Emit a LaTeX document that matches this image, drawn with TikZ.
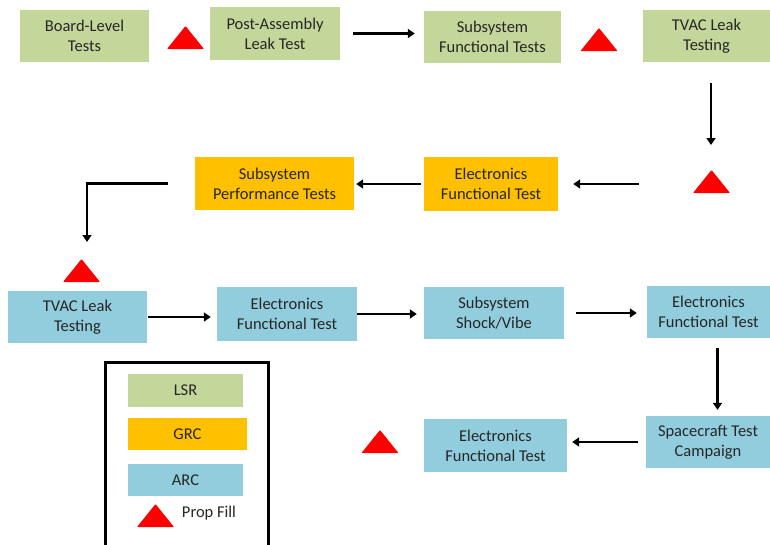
\documentclass[tikz,border=0pt]{standalone}
\usepackage{fontspec}
\setmainfont{Carlito}
\usetikzlibrary{arrows.meta}
\definecolor{lsrc}{RGB}{196,215,155}
\definecolor{grcc}{RGB}{255,192,0}
\definecolor{arcc}{RGB}{146,205,221}
\definecolor{txt}{RGB}{38,38,38}
\begin{document}
\begin{tikzpicture}[x=1pt,y=-1pt,
  box/.style={inner sep=0pt, align=center, text=txt, font=\fontsize{16.5}{20}\selectfont},
  lsr/.style={box, fill=lsrc},
  grc/.style={box, fill=grcc},
  arc/.style={box, fill=arcc},
  arr/.style={line width=2.6pt, -{Triangle[length=7pt,width=9pt]}},
  prop/.pic={\fill[red, rounded corners=0.8pt] (-18.5,0) -- (0,-23) -- (18.5,0) -- cycle;}
]
\useasboundingbox (0,0) rectangle (770,544);
% row 1
\node[lsr, minimum width=129pt, minimum height=52pt] (b1) at (84.5,36) {Board-Level\\Tests};
\node[lsr, minimum width=130pt, minimum height=53pt] (b2) at (275,33.5) {Post-Assembly\\Leak Test};
\node[lsr, minimum width=137pt, minimum height=52pt] (b3) at (492.5,37) {Subsystem\\Functional Tests};
\node[lsr, minimum width=127pt, minimum height=52pt] (b4) at (706.5,36) {TVAC Leak\\Testing};
% row 2
\node[grc, minimum width=134pt, minimum height=54pt] (g1) at (491,184) {Electronics\\Functional Test};
\node[grc, minimum width=159pt, minimum height=53pt] (g2) at (274.5,183.5) {Subsystem\\Performance Tests};
% row 3
\node[arc, minimum width=139pt, minimum height=52pt] (a1) at (77.5,317) {TVAC Leak\\Testing};
\node[arc, minimum width=140pt, minimum height=54pt] (a2) at (287,314) {Electronics\\Functional Test};
\node[arc, minimum width=140pt, minimum height=52pt] (a3) at (494,313) {Subsystem\\Shock/Vibe};
\node[arc, minimum width=123pt, minimum height=52pt] (a4) at (708.5,312) {Electronics\\Functional Test};
% row 4
\node[arc, minimum width=124pt, minimum height=52pt] (a5) at (708,442) {Spacecraft Test\\Campaign};
\node[arc, minimum width=143pt, minimum height=53pt] (a6) at (495.5,445.5) {Electronics\\Functional Test};
% prop fill triangles
\pic at (185.5,49) {prop};
\pic at (599,51) {prop};
\pic at (711.5,193) {prop};
\pic at (81.5,282) {prop};
\pic at (380,453) {prop};
\coordinate (t3) at (711,171);
\coordinate (tc3) at (711,182);
\coordinate (t4) at (81,259);
% arrows
\draw[arr, shorten <=13pt, shorten >=9pt] (b2.east) -- (b2.east -| b3.west);
\draw[arr, shorten <=21pt, shorten >=26pt] (b4.south -| t3) -- (t3);
\draw[arr, shorten <=72pt, shorten >=15pt] (tc3 |- g1.east) -- (g1.east);
\draw[arr, shorten <=3pt, shorten >=2pt] (g1.west) -- (g1.west -| g2.east);
\draw[arr, shorten <=27pt, shorten >=17pt] (g2.west) -| ([xshift=6pt]t4);
\draw[arr, shorten <=1pt, shorten >=6pt] (a1.east) -- (a1.east -| a2.west);
\draw[arr, shorten <=0pt, shorten >=7pt] (a2.east) -- (a2.east -| a3.west);
\draw[arr, shorten <=12pt, shorten >=10pt] (a3.east) -- (a3.east -| a4.west);
\draw[arr, shorten <=10pt, shorten >=6pt] ([xshift=9pt]a4.south) -- ([xshift=9pt]a4.south |- a5.north);
\draw[arr, shorten <=8pt, shorten >=5pt] (a5.west) -- (a5.west -| a6.east);
% legend
\node[draw=black, line width=3pt, minimum width=163pt, minimum height=184pt, inner sep=0pt] (leg) at (186.5,454) {};
\node[lsr, minimum width=115pt, minimum height=33pt] (lsrL) at (185.5,390.5) {LSR};
\node[grc, minimum width=119pt, minimum height=32pt] (grcL) at (187.5,434) {GRC};
\node[arc, minimum width=115pt, minimum height=32pt] (arcL) at (185.5,480) {ARC};
\pic at (155.5,527) {prop};
\node[box] (pf) at (209,513) {Prop Fill};
\end{tikzpicture}
\end{document}
